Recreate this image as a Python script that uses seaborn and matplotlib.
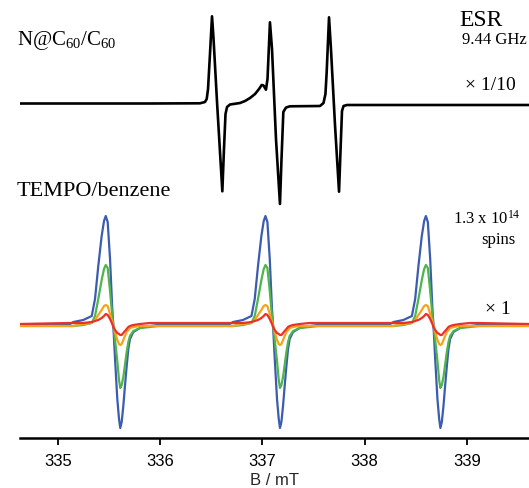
import numpy as np
import pandas as pd
import matplotlib
matplotlib.use("Agg")
import matplotlib.pyplot as plt
import seaborn as sns

# ---------------- data ----------------
# N@C60/C60 trace (x/10): field in mT, signal in a.u. (baseline = 0)
top_B = [334.624, 335.900, 336.389, 336.438, 336.455, 336.468, 336.487, 336.507,
         336.522, 336.556, 336.608, 336.624, 336.639, 336.654, 336.683, 336.781,
         336.830, 336.879, 336.928, 336.967, 336.993, 337.011, 337.035, 337.050,
         337.074, 337.094, 337.133, 337.172, 337.187, 337.205, 337.231, 337.270,
         337.564, 337.598, 337.617, 337.629, 337.652, 337.671, 337.710, 337.750,
         337.765, 337.779, 337.794, 337.828, 339.609]
top_I = [0.5, 0.5, 0.7, 2, 5, 15, 50, 87.7,
         65, 2, -87.3, -45, -10, -3, -0.5, 1,
         3, 6, 10, 15, 19, 18.5, 14.3, 25,
         81.7, 55, -35, -100, -55, -8, -3.5, -2.3,
         -2, 1, 10, 31.7, 86.7, 55, -20, -87.7,
         -45, -7, -2, -1, -1]

# TEMPO/benzene: three hyperfine lines (zero-crossing field, mT)
tempo_centers = [335.541, 337.104, 338.674]
# field offsets from each line centre (mT) at which the traces were read
tempo_dB = [-0.440, -0.391, -0.294, -0.211, -0.179, -0.147, -0.114, -0.091, -0.074,
            -0.055, -0.032, -0.010, 0.0, 0.017, 0.039, 0.056, 0.068, 0.082,
            0.098, 0.114, 0.131, 0.147, 0.163, 0.196, 0.261, 0.359, 0.440]
blue_I = [0, 3, 5, 9, 26, 59, 89, 104, 109, 103, 66, 16, 0, -34, -74, -94, -103, -97,
          -81, -61, -41, -24, -14, -7, -3, -1, 0]
green_I = [-1, -1, 0, 2, 9, 26, 45, 56, 60, 57, 34, 9, 0, -15, -36, -55, -63, -60,
           -52, -40, -27, -17, -11, -6, -3, -2, -1]
orange_I = [-1, -1, 1, 2, 5, 10, 15, 19, 20, 19, 11, 3, 0, -7, -15, -19, -20, -19,
            -15, -11, -7, -5, -3, -2, -1, -1, -1]
red_I = [2, 2, 2, 3, 4, 5, 7, 9, 11, 10, 6, 1, -2, -5, -8, -9, -10, -10,
         -8, -6, -4, -2, -1, 0, 1, 2, 2]
tempo_end_I = {"blue": 0, "green": -1, "orange": -1, "red": 1}
B_range = [334.624, 339.609]

tick_vals = [335, 336, 337, 338, 339]
tick_labels = ["335", "336", "337", "338", "339"]

# ---------------- build tables ----------------
series = {"blue": blue_I, "green": green_I, "orange": orange_I, "red": red_I}
rows = []
for name, vals in series.items():
    rows.append((name, B_range[0], tempo_end_I[name]))
    for c in tempo_centers:
        for d, v in zip(tempo_dB, vals):
            rows.append((name, c + d, v))
    rows.append((name, B_range[1], tempo_end_I[name]))
df_tempo = pd.DataFrame(rows, columns=["sample", "B", "I"])

top_offset = 221
df_top = pd.DataFrame({"B": top_B, "I": np.array(top_I) + top_offset})

palette = {"blue": "#3b5cb0", "green": "#4db54a", "orange": "#f7a21b", "red": "#e8312b"}

# ---------------- figure ----------------
sns.set_theme(style="white")
plt.rcParams["mathtext.fontset"] = "custom"
plt.rcParams["mathtext.rm"] = "Liberation Serif"
plt.rcParams["mathtext.it"] = "Liberation Serif:italic"
W, H = 529, 489
fig = plt.figure(figsize=(W / 100, H / 100), dpi=100)
ax = fig.add_axes([19.6 / W, 50 / H, 1 - 19.6 / W, 439 / H])

sns.lineplot(data=df_tempo, x="B", y="I", hue="sample", palette=palette,
             hue_order=["blue", "green", "orange", "red"],
             sort=False, estimator=None, legend=False, lw=1.6, ax=ax)
sns.lineplot(data=df_top, x="B", y="I", color="black", sort=False,
             estimator=None, lw=1.9, ax=ax)

ax.set_xlim(B_range)
ax.set_ylim(-113, 326)
for s in ["left", "right", "top"]:
    ax.spines[s].set_visible(False)
ax.spines["bottom"].set_linewidth(1.8)
ax.spines["bottom"].set_color("black")
ax.set_yticks([])
ax.set_xticks(tick_vals)
ax.set_xticklabels(tick_labels, fontfamily="Liberation Sans", fontsize=12)
ax.tick_params(axis="x", direction="out", length=5, width=1.3, color="black",
               pad=6, labelcolor="black", bottom=True)
ax.set_xlabel("B / mT", fontfamily="Liberation Sans", fontsize=12, labelpad=3)
ax.set_ylabel("")
ax.patch.set_alpha(0)

def ftxt(x, y, s, size, ha="left", va="center"):
    fig.text(x / W, 1 - y / H, s, fontsize=size, ha=ha, va=va,
             fontfamily=["Liberation Serif", "DejaVu Serif"], color="black")

ftxt(17, 40, r"N@C$_{60}$/C$_{60}$", 15)
ftxt(481, 21, "ESR", 17, ha="center")
ftxt(527, 40, "9.44 GHz", 12, ha="right")
ftxt(516, 86, "\u00d7 1/10", 14, ha="right")
ftxt(17, 191, "TEMPO/benzene", 16)
ftxt(521, 219, r"1.3 x 10$^{14}$", 12, ha="right")
ftxt(515, 240, "spins", 12, ha="right")
ftxt(511, 309, "\u00d7 1", 14, ha="right")

fig.savefig("out.png", dpi=100)
